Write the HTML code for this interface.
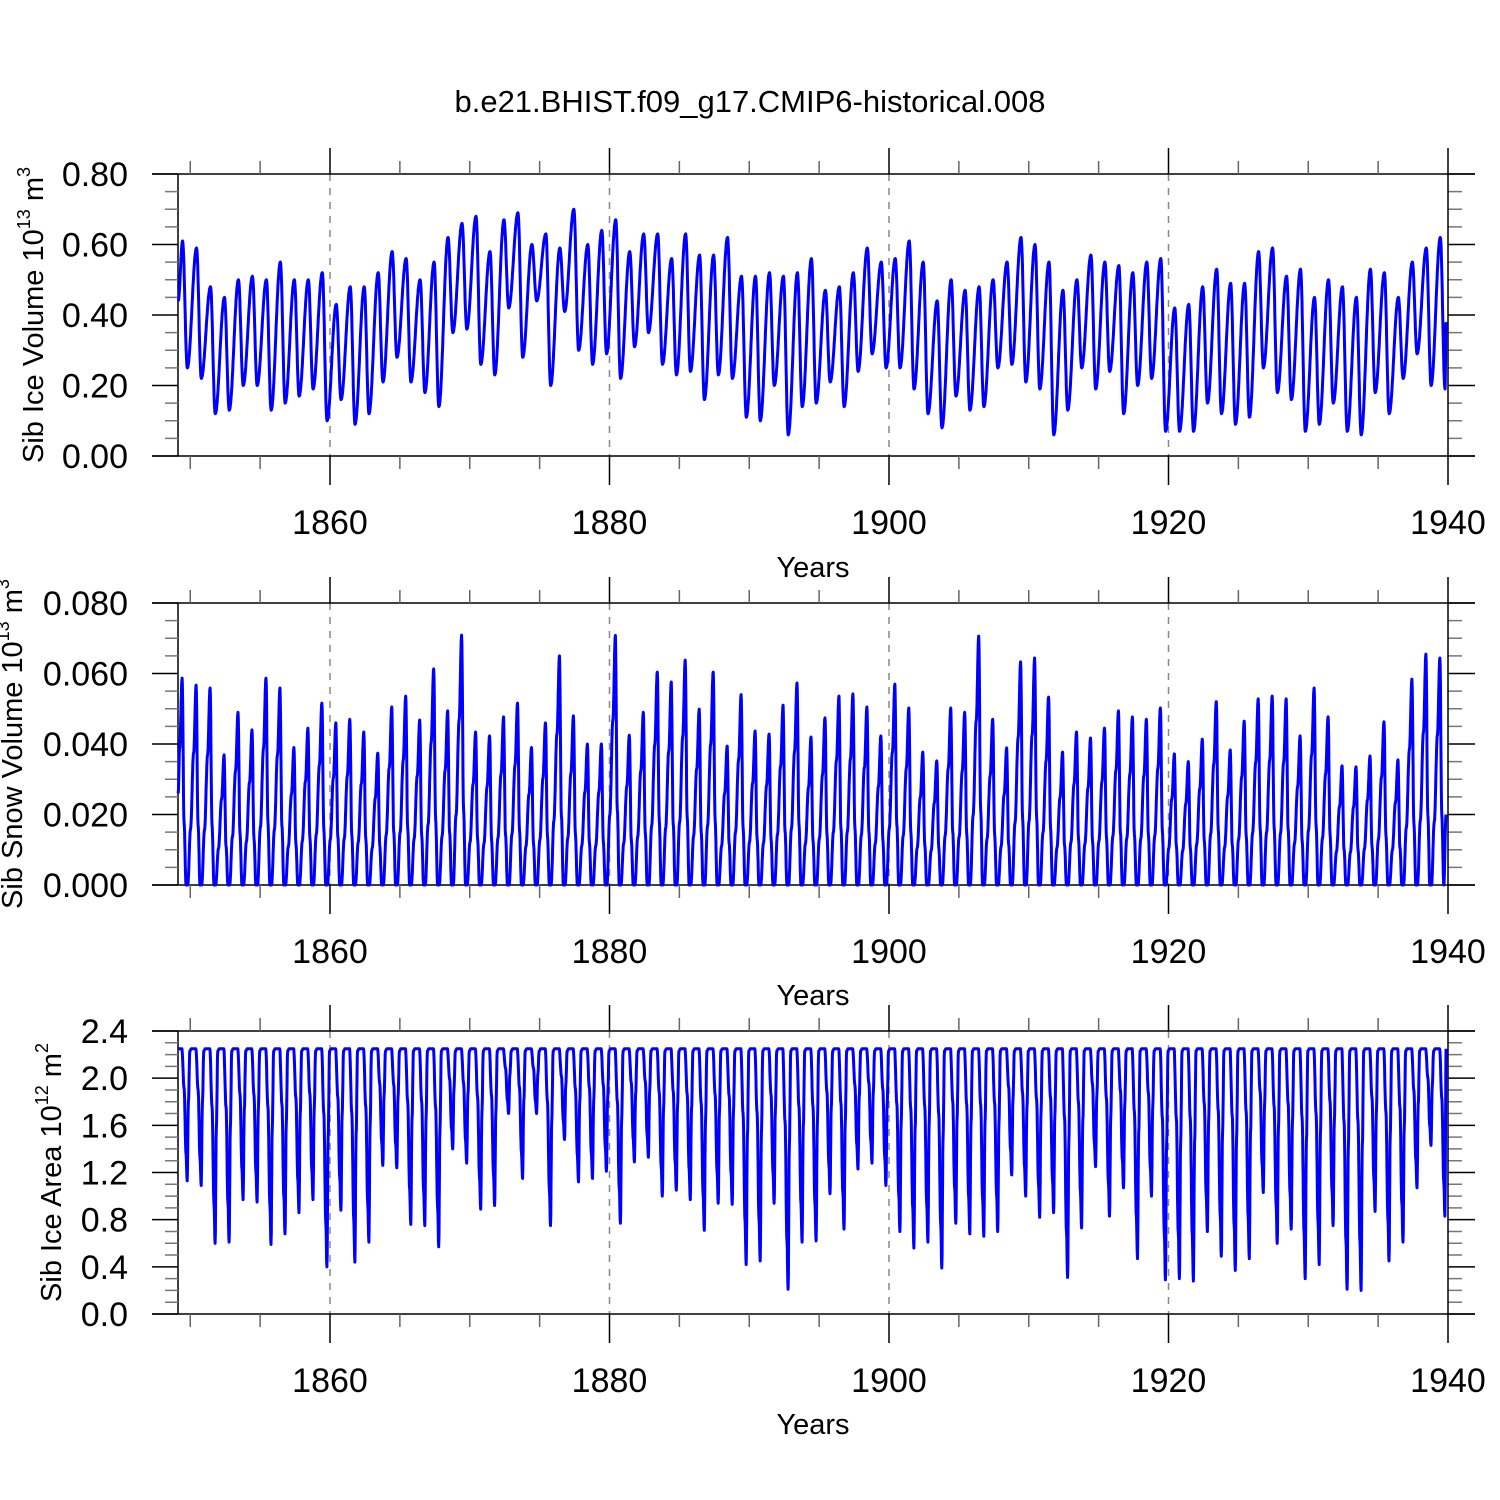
<!DOCTYPE html>
<html><head><meta charset="utf-8"><style>
html,body{margin:0;padding:0;background:#fff;}
svg{display:block;font-family:"Liberation Sans",Arial,sans-serif;}
</style></head><body>
<svg id="chart" width="1500" height="1500" viewBox="0 0 1500 1500" xmlns="http://www.w3.org/2000/svg">
<rect width="1500" height="1500" fill="#fff"/>
<text x="750" y="112" font-size="31" text-anchor="middle">b.e21.BHIST.f09_g17.CMIP6-historical.008</text>
</svg>
<script>
// ---- data (one value per year 1849..1939) ----
const startYear = 1849;
const iceVolPeaks = [0.61,0.59,0.48,0.45,0.50,0.51,0.50,0.55,0.50,0.50,0.52,0.43,0.48,0.48,0.52,0.58,0.56,0.50,0.55,0.62,0.66,0.68,0.58,0.67,0.69,0.60,0.63,0.59,0.70,0.60,0.64,0.67,0.58,0.63,0.63,0.56,0.63,0.57,0.57,0.62,0.51,0.51,0.52,0.51,0.52,0.56,0.47,0.48,0.52,0.59,0.55,0.56,0.61,0.55,0.44,0.50,0.47,0.48,0.50,0.55,0.62,0.60,0.55,0.47,0.50,0.57,0.55,0.54,0.52,0.55,0.56,0.42,0.43,0.48,0.53,0.49,0.49,0.58,0.59,0.51,0.53,0.45,0.50,0.48,0.45,0.53,0.52,0.45,0.55,0.59,0.62];
const iceVolTroughs = [0.25,0.22,0.12,0.13,0.20,0.20,0.13,0.15,0.17,0.19,0.10,0.16,0.09,0.12,0.21,0.28,0.21,0.18,0.14,0.35,0.36,0.26,0.23,0.42,0.28,0.44,0.20,0.41,0.30,0.26,0.29,0.22,0.31,0.35,0.26,0.23,0.24,0.16,0.23,0.22,0.11,0.10,0.20,0.06,0.14,0.15,0.21,0.14,0.24,0.29,0.25,0.25,0.19,0.12,0.08,0.17,0.13,0.14,0.25,0.26,0.21,0.19,0.06,0.13,0.25,0.19,0.24,0.12,0.20,0.22,0.07,0.07,0.07,0.15,0.12,0.09,0.11,0.25,0.18,0.16,0.07,0.09,0.15,0.07,0.06,0.18,0.12,0.22,0.29,0.20,0.19];
const snowPeaks = [0.0587,0.0567,0.0559,0.0369,0.049,0.044,0.0587,0.0559,0.039,0.0445,0.0516,0.046,0.047,0.0434,0.0374,0.0505,0.0536,0.0468,0.0613,0.0494,0.0709,0.0434,0.0423,0.0477,0.0516,0.039,0.046,0.065,0.048,0.040,0.040,0.0708,0.0425,0.049,0.0604,0.0576,0.0638,0.0499,0.0604,0.0394,0.054,0.0437,0.0428,0.051,0.0573,0.042,0.0474,0.0536,0.0542,0.0505,0.0423,0.057,0.0502,0.0377,0.0352,0.0502,0.049,0.0706,0.047,0.0389,0.0633,0.0644,0.0533,0.0377,0.0434,0.0417,0.0445,0.0494,0.0477,0.047,0.0502,0.0372,0.035,0.0414,0.052,0.0383,0.0465,0.0528,0.0536,0.0528,0.0423,0.0559,0.0477,0.0338,0.0335,0.0366,0.0463,0.0355,0.0584,0.0655,0.0644];
const areaMax = 2.25;
const areaMins = [1.13,1.09,0.60,0.61,0.97,0.95,0.59,0.68,0.86,0.97,0.40,0.88,0.44,0.61,1.26,1.24,0.76,0.75,0.57,1.40,1.28,0.89,0.92,1.70,1.15,1.70,0.75,1.48,1.12,1.15,1.21,0.77,1.29,1.33,1.00,1.05,0.97,0.71,0.94,0.93,0.42,0.45,0.94,0.21,0.61,0.62,1.02,0.72,1.23,1.28,1.09,0.70,0.56,0.61,0.39,0.77,0.68,0.66,0.70,1.18,1.00,0.82,0.86,0.31,0.73,1.25,0.83,1.07,0.47,1.00,0.29,0.30,0.28,0.70,0.49,0.37,0.47,1.03,0.60,0.72,0.30,0.42,0.75,0.21,0.20,0.87,0.45,0.61,1.07,1.43,0.83];
const edgeValues = {ice:[0.44,0.38], snow:[0.026,0.020], area:[2.25,2.25]};
const xTickYears = [1860,1880,1900,1920,1940];
const ticks1 = ["0.00","0.20","0.40","0.60","0.80"];
const ticks2 = ["0.000","0.020","0.040","0.060","0.080"];
const ticks3 = ["0.0","0.4","0.8","1.2","1.6","2.0","2.4"];

// ---- layout ----
const NS = "http://www.w3.org/2000/svg";
const svg = document.getElementById("chart");
const T0 = 1849.14, T1 = 1939.86;
const LX = 178, RX = 1448;
function xs(t){ return 330 + (t - 1860) * 13.975; }
function mk(tag, attrs, parent){
  const e = document.createElementNS(NS, tag);
  for (const k in attrs) e.setAttribute(k, attrs[k]);
  (parent || svg).appendChild(e);
  return e;
}
const panels = [
  {top:174, bot:456, max:0.8, ticks:ticks1, minorStep:0.05, labY:522, yearsY:567, title:"Sib Ice Volume 10", exp:"13", unit:"m", uexp:"3", titleX:43, name:"ice-volume"},
  {top:603, bot:885, max:0.08, ticks:ticks2, minorStep:0.005, labY:951, yearsY:995, title:"Sib Snow Volume 10", exp:"13", unit:"m", uexp:"3", titleX:22, name:"snow-volume"},
  {top:1031, bot:1314, max:2.4, ticks:ticks3, minorStep:0.1, labY:1380, yearsY:1424, title:"Sib Ice Area 10", exp:"12", unit:"m", uexp:"2", titleX:61, name:"ice-area"}
];

function cosInterp(knots){
  const pts = [];
  for (let i = 0; i < knots.length - 1; i++){
    const [ta, va] = knots[i], [tb, vb] = knots[i+1];
    const n = Math.max(2, Math.ceil((tb - ta) / 0.02));
    for (let j = 0; j < n; j++){
      const s = j / n;
      const w = (1 - Math.cos(Math.PI * s)) / 2;
      pts.push([ta + (tb - ta) * s, va + (vb - va) * w]);
    }
  }
  pts.push(knots[knots.length-1]);
  return pts;
}
function clip(knots){
  return knots.filter(k => k[0] > T0 && k[0] < T1);
}
function iceKnots(){
  let k = [[T0, edgeValues.ice[0]]];
  const ks = [];
  iceVolPeaks.forEach((p,i) => { ks.push([startYear + i + 0.45, p]); ks.push([startYear + i + 0.79, iceVolTroughs[i]]); });
  k = k.concat(clip(ks)); k.push([T1, edgeValues.ice[1]]);
  return cosInterp(k);
}
function snowKnots(){
  const ks = [];
  snowPeaks.forEach((p,i) => {
    const y = startYear + i;
    ks.push([y - 0.18, 0]);
    ks.push([y + 0.02, p * 0.28]);
    ks.push([y + 0.24, p * 0.66]);
    ks.push([y + 0.42, p]);
    ks.push([y + 0.56, p * 0.3]);
    ks.push([y + 0.7, 0]);
  });
  let k = [[T0, edgeValues.snow[0]]].concat(clip(ks));
  k.push([T1, edgeValues.snow[1]]);
  return cosInterp(k);
}
function areaKnots(){
  const ks = [];
  areaMins.forEach((m,i) => {
    const y = startYear + i;
    const d = areaMax - m;
    ks.push([y + 0.08, areaMax]);
    ks.push([y + 0.4, areaMax]);
    ks.push([y + 0.56, areaMax - d * 0.3]);
    ks.push([y + 0.7, areaMax - d * 0.8]);
    ks.push([y + 0.78, m]);
    ks.push([y + 0.87, areaMax - d * 0.4]);
    ks.push([y + 0.97, areaMax - 0.02]);
  });
  let k = [[T0, edgeValues.area[0]]].concat(clip(ks));
  k.push([T1, edgeValues.area[1]]);
  return cosInterp(k);
}
const series = [iceKnots(), snowKnots(), areaKnots()];

panels.forEach((P, pi) => {
  const g = mk("g", {});
  
  
  const ys = v => P.bot - (v / P.max) * (P.bot - P.top);
  xTickYears.slice(0,4).forEach(yr => {
    const l = mk("line", {x1:xs(yr), x2:xs(yr), y1:P.top, y2:P.bot, stroke:"#888", "stroke-width":1.5, "stroke-dasharray":"7,7"}, g);
    
    
  });
  const fr = mk("path", {d:`M152 ${P.top}H1475M152 ${P.bot}H1475M${LX} ${P.top}V${P.bot}`, stroke:"#000", "stroke-width":1.5, fill:"none"}, g);
  
  
  const nMin = Math.round(P.max / P.minorStep);
  for (let i = 0; i <= nMin; i++){
    const y = ys(i * P.minorStep);
    const major = (i % Math.round(nMin / (P.ticks.length - 1))) === 0;
    const t = mk("path", {d: major ? `M152 ${y}H${LX}M${RX} ${y}H1475` : `M165 ${y}H${LX}M${RX} ${y}H1462`, stroke: major ? "#000" : "#777", "stroke-width":1.5}, g);
    
    
  }
  P.ticks.forEach((lab, i) => {
    const v = i * P.max / (P.ticks.length - 1);
    const t = mk("text", {x:128, y:ys(v) + 12, "font-size":34, "text-anchor":"end"}, g);
    t.textContent = lab;
    
    
  });
  for (let yr = 1850; yr < 1940; yr += 5){
    const x = xs(yr);
    const major = yr % 20 === 0;
    const t = mk("path", {d: major ? `M${x} ${P.top-26}V${P.top}M${x} ${P.bot}V${P.bot+29}` : `M${x} ${P.top-13}V${P.top}M${x} ${P.bot}V${P.bot+13}`, stroke: major ? "#000" : "#666", "stroke-width":1.5}, g);
    
    
  }
  const rl = mk("line", {x1:RX, x2:RX, y1:P.top-26, y2:P.bot+29, stroke:"#000", "stroke-width":1.5}, g);
  
  
  xTickYears.forEach(yr => {
    const t = mk("text", {x:xs(yr), y:P.labY + 12, "font-size":34, "text-anchor":"middle"}, g);
    t.textContent = yr;
    
    
  });
  const xt = mk("text", {x:813, y:P.yearsY + 10, "font-size":29, "text-anchor":"middle"}, g);
  xt.textContent = "Years";
  
  
  const cy = (P.top + P.bot) / 2;
  const yt = mk("text", {x:0, y:0, "font-size":29, "text-anchor":"middle", transform:`translate(${P.titleX},${cy}) rotate(-90)`}, g);
  yt.innerHTML = `${P.title}<tspan dy="-13" font-size="18">${P.exp}</tspan><tspan dy="13"> ${P.unit}</tspan><tspan dy="-13" font-size="18">${P.uexp}</tspan>`;
  
  
  const pts = series[pi];
  const d = pts.map((p, i) => (i ? "L" : "M") + xs(p[0]).toFixed(1) + " " + ys(p[1]).toFixed(1)).join("");
  const ln = mk("path", {d, stroke:"#0000ff", "stroke-width":3, fill:"none", "stroke-linejoin":"round"}, g);
  
  
});
</script>
</body></html>
